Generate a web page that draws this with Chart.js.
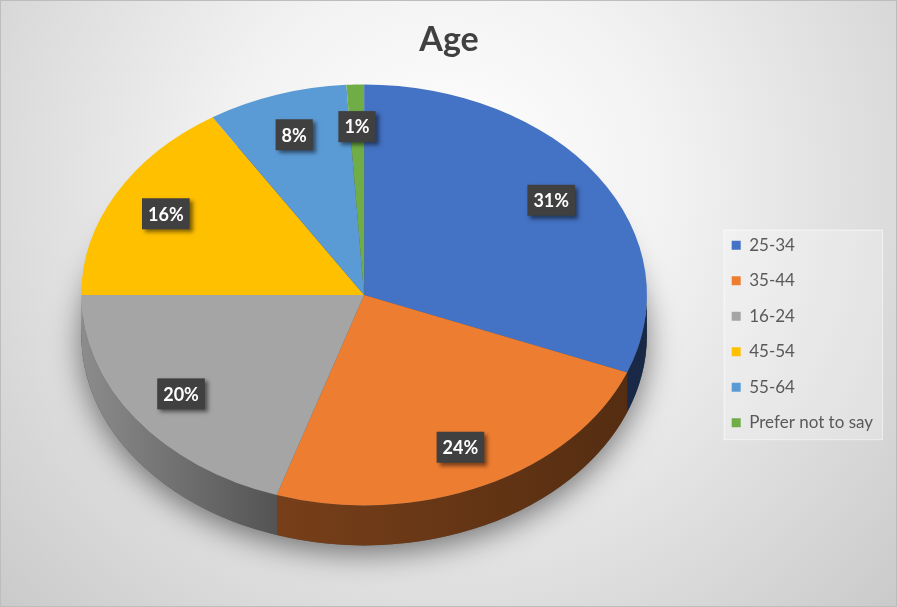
<!DOCTYPE html>
<html>
<head>
<meta charset="utf-8">
<script src="https://cdn.jsdelivr.net/npm/chart.js@4.4.1/dist/chart.umd.min.js"></script>
<style>
  html, body { margin: 0; padding: 0; background: #fff; }
  #wrap { width: 897px; height: 607px; }
</style>
</head>
<body>
<div id="wrap"><canvas id="graficoEdad" width="897" height="607"></canvas></div>
<script>
// Datos del gráfico (porcentaje por rango de edad)
const categorias = ['25-34', '35-44', '16-24', '45-54', '55-64', 'Prefer not to say'];
const porcentajes = [31, 24, 20, 16, 8, 1];
const colores = ['#4472c4', '#ed7d31', '#a5a5a5', '#ffc000', '#5b9bd5', '#70ad47'];

// "inclinación" falsa para imitar la torta 3D de Excel
const vista3d = { sx: 1.075, sy: 0.8, lift: 39, depth: 40, labelPos: 0.8 };

function oscurecer(hex, f) {
    const n = parseInt(hex.slice(1), 16);
    const r = Math.round(((n >> 16) & 255) * f);
    const g = Math.round(((n >> 8) & 255) * f);
    const b = Math.round((n & 255) * f);
    return 'rgb(' + r + ',' + g + ',' + b + ')';
}

// fondo degradado + marco de la leyenda
const fondo = {
    id: 'fondo',
    beforeDraw(chart) {
        const ctx = chart.ctx;
        const w = chart.width, h = chart.height;
        ctx.save();
        const grad = ctx.createRadialGradient(w / 2, h * 0.3, 0, w / 2, h * 0.3, w * 0.7);
        grad.addColorStop(0, '#ffffff');
        grad.addColorStop(0.35, '#f2f2f2');
        grad.addColorStop(1, '#c9c9c9');
        ctx.fillStyle = grad;
        ctx.fillRect(0, 0, w, h);
        ctx.strokeStyle = '#bdbdbd';
        ctx.lineWidth = 1;
        ctx.strokeRect(0.5, 0.5, w - 1, h - 1);

        const hb = chart.legend.legendHitBoxes;
        if (hb && hb.length) {
            let l = Infinity, r = -Infinity;
            hb.forEach(b => { l = Math.min(l, b.left); r = Math.max(r, b.left + b.width); });
            const t = hb[0].top, btm = hb[hb.length - 1].top + hb[hb.length - 1].height;
            ctx.fillStyle = 'rgba(255,255,255,0.25)';
            ctx.fillRect(l - 8, t - 7, r - l + 17, btm - t + 15);
            ctx.strokeStyle = 'rgba(255,255,255,0.6)';
            ctx.strokeRect(l - 8 + 0.5, t - 7 + 0.5, r - l + 17, btm - t + 15);
        }
        ctx.restore();
    }
};

const pie3d = {
    id: 'pie3d',
    beforeDatasetsDraw(chart) {
        const ctx = chart.ctx;
        const arcs = chart.getDatasetMeta(0).data;
        const x = arcs[0].x, y = arcs[0].y, R = arcs[0].outerRadius;
        ctx.save();
        ctx.translate(x, y - vista3d.lift);
        ctx.scale(vista3d.sx, vista3d.sy);
        ctx.translate(-x, -y);
        const d = vista3d.depth / vista3d.sy;

        // sombra bajo la torta
        ctx.save();
        ctx.shadowColor = 'rgba(0,0,0,0.5)';
        ctx.shadowBlur = 30;
        ctx.shadowOffsetY = 8;
        ctx.fillStyle = '#555';
        ctx.beginPath();
        ctx.arc(x, y + d, R, 0, Math.PI * 2);
        ctx.fill();
        ctx.restore();

        // costados visibles (mitad frontal)
        arcs.forEach((arc, i) => {
            const a0 = Math.max(arc.startAngle, 0);
            const a1 = Math.min(arc.endAngle, Math.PI);
            if (a1 <= a0) return;
            const grad = ctx.createLinearGradient(x - R, 0, x + R, 0);
            grad.addColorStop(0, oscurecer(colores[i], 0.85));
            grad.addColorStop(0.35, oscurecer(colores[i], 0.5));
            grad.addColorStop(1, oscurecer(colores[i], 0.35));
            ctx.fillStyle = grad;
            ctx.beginPath();
            ctx.arc(x, y, R, a0, a1);
            ctx.arc(x, y + d, R, a1, a0, true);
            ctx.closePath();
            ctx.fill();
        });
    },
    afterDatasetsDraw(chart) {
        const ctx = chart.ctx;
        ctx.restore();
        const arcs = chart.getDatasetMeta(0).data;
        ctx.save();
        ctx.font = 'bold 18px Lato';
        ctx.textAlign = 'center';
        ctx.textBaseline = 'middle';
        arcs.forEach((arc, i) => {
            const mid = (arc.startAngle + arc.endAngle) / 2;
            const r = arc.outerRadius * vista3d.labelPos;
            const px = arc.x + Math.cos(mid) * r * vista3d.sx;
            const py = arc.y - vista3d.lift + Math.sin(mid) * r * vista3d.sy;
            const txt = porcentajes[i] + '%';
            const w = ctx.measureText(txt).width + 12, h = 31;
            ctx.save();
            ctx.shadowColor = 'rgba(0,0,0,0.5)';
            ctx.shadowBlur = 4;
            ctx.shadowOffsetX = 3;
            ctx.shadowOffsetY = 3;
            ctx.fillStyle = '#404040';
            ctx.fillRect(px - w / 2, py - h / 2, w, h);
            ctx.restore();
            ctx.fillStyle = '#ffffff';
            ctx.fillText(txt, px, py + 1);
        });
        ctx.restore();
    }
};

let edad = document.getElementById('graficoEdad').getContext('2d');
let graficoEdad = new Chart(edad, {
    type: 'pie',
    data: {
        labels: categorias,
        datasets: [{
            data: porcentajes,
            backgroundColor: colores,
            borderWidth: 0
        }]
    },
    options: {
        responsive: false,
        animation: false,
        layout: { padding: { left: 15, right: 14, bottom: 10 } },
        plugins: {
            title: {
                display: true,
                text: 'Age',
                color: '#404040',
                font: { family: 'Lato', size: 34, weight: 'bold' },
                padding: { top: 20, bottom: 10 }
            },
            legend: {
                position: 'right',
                fullSize: false,
                labels: {
                    boxWidth: 9,
                    boxHeight: 9,
                    padding: 18.5,
                    color: '#595959',
                    font: { family: 'Lato', size: 17 }
                }
            },
            tooltip: { enabled: false }
        }
    },
    plugins: [fondo, pie3d]
});
</script>
</body>
</html>
